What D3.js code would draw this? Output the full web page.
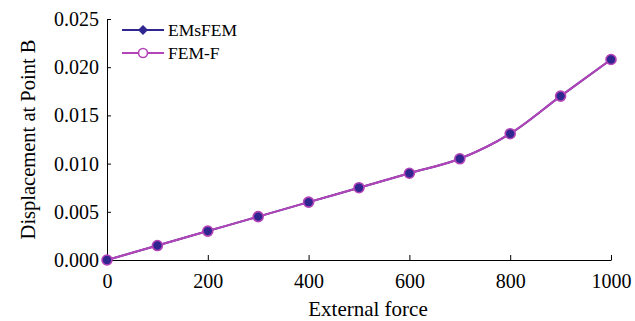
<!DOCTYPE html>
<html>
<head>
<meta charset="utf-8">
<script src="https://cdn.jsdelivr.net/npm/d3@7"></script>
<style>
  body { margin: 0; background: #fff; }
  svg text { font-family: "Liberation Serif", "Times New Roman", serif; }
</style>
</head>
<body>
<div id="chart"></div>
<script>
const forces = [0, 100, 200, 300, 400, 500, 600, 700, 800, 900, 1000];
const emsfem = [0, 0.0015, 0.003, 0.0045, 0.006, 0.0075, 0.009, 0.0105, 0.0131, 0.0170, 0.0208];
const femF   = [0, 0.0015, 0.003, 0.0045, 0.006, 0.0075, 0.009, 0.0105, 0.0131, 0.0170, 0.0208];
const xTicks = [0, 200, 400, 600, 800, 1000];
const yTicks = [0, 0.005, 0.010, 0.015, 0.020, 0.025];

const width = 635, height = 321;
const margin = {left: 107, right: 25, top: 19, bottom: 61};
const serif = "Liberation Serif, Times New Roman, serif";

const svg = d3.select("#chart").append("svg")
    .attr("width", width)
    .attr("height", height);

const x = d3.scaleLinear().domain([0, 1000]).range([margin.left, width - margin.right + 1]);
const y = d3.scaleLinear().domain([0, 0.025]).range([height - margin.bottom, margin.top]);

// axes, ticks inside
svg.append("g")
    .attr("transform", `translate(0,${y(0)})`)
    .call(d3.axisBottom(x).tickValues(xTicks).tickFormat(d3.format("d"))
        .tickSizeInner(-5).tickSizeOuter(0).tickPadding(14))
    .call(g => g.attr("font-family", serif).attr("font-size", 20))
    .call(g => g.selectAll("text").attr("fill", "#000"));

svg.append("g")
    .attr("transform", `translate(${x(0)},0)`)
    .call(d3.axisLeft(y).tickValues(yTicks).tickFormat(d3.format(".3f"))
        .tickSizeInner(-4).tickSizeOuter(0).tickPadding(8))
    .call(g => g.attr("font-family", serif).attr("font-size", 20))
    .call(g => g.selectAll("text").attr("fill", "#000"));

svg.selectAll(".domain").attr("stroke", "#000");
svg.selectAll(".tick line").attr("stroke", "#000");

// axis titles
svg.append("text")
    .attr("x", 368)
    .attr("y", 316)
    .attr("text-anchor", "middle")
    .attr("font-size", 21)
    .text("External force");

svg.append("text")
    .attr("transform", `translate(35,${(y(0) + y(0.025)) / 2}) rotate(-90)`)
    .attr("text-anchor", "middle")
    .attr("font-size", 20.5)
    .text("Displacement at Point B");

const blue = "#2f2690", magenta = "#b444b8";

const line = d3.line()
    .x(d => x(d[0]))
    .y(d => y(d[1]))
    .curve(d3.curveMonotoneX);

const s1 = forces.map((f, i) => [f, emsfem[i]]);
const s2 = forces.map((f, i) => [f, femF[i]]);

svg.append("path").datum(s1)
    .attr("d", line).attr("fill", "none").attr("stroke", blue).attr("stroke-width", 2);
svg.append("path").datum(s2)
    .attr("d", line).attr("fill", "none").attr("stroke", magenta).attr("stroke-width", 2);

// diamond = square rotated 45deg
const diamond = d3.symbol().type(d3.symbolSquare).size(50);
svg.selectAll(".dia").data(s1).enter().append("path")
    .attr("transform", d => `translate(${x(d[0])},${y(d[1])}) rotate(45)`)
    .attr("d", diamond).attr("fill", blue);

svg.selectAll(".circ").data(s2).enter().append("circle")
    .attr("cx", d => x(d[0])).attr("cy", d => y(d[1]))
    .attr("r", 5)
    .attr("fill", blue)
    .attr("stroke", magenta).attr("stroke-width", 1.6);

// legend
const legend = [
  {name: "EMsFEM", color: blue, y: 30},
  {name: "FEM-F", color: magenta, y: 53}
];
legend.forEach(l => {
  svg.append("line").attr("x1", 122).attr("x2", 164).attr("y1", l.y).attr("y2", l.y)
      .attr("stroke", l.color).attr("stroke-width", 2);
  svg.append("text").attr("x", 168).attr("y", l.y + 5.5).attr("font-size", 17.5).text(l.name);
});
svg.append("path").attr("transform", `translate(143,30) rotate(45)`)
    .attr("d", d3.symbol().type(d3.symbolSquare).size(50)).attr("fill", blue);
svg.append("circle").attr("cx", 143).attr("cy", 53).attr("r", 4.5)
    .attr("fill", "#fff").attr("stroke", magenta).attr("stroke-width", 1.6);
</script>
</body>
</html>
